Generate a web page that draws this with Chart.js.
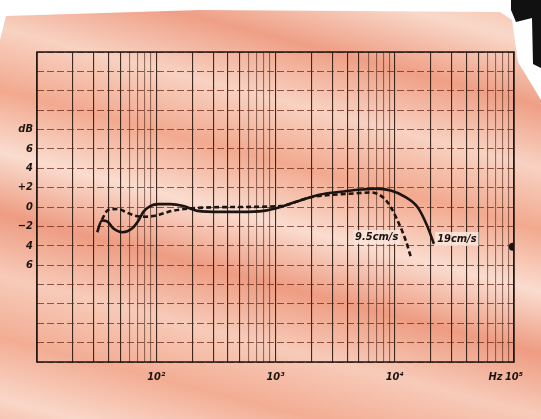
<!DOCTYPE html>
<html>
<head>
<meta charset="utf-8">
<script src="https://cdn.jsdelivr.net/npm/chart.js"></script>
<style>
  html, body { margin: 0; padding: 0; background: #fff; }
  #chart { display: block; }
</style>
</head>
<body>
<canvas id="chart" width="541" height="419"></canvas>
<script>
// Frequency response of a tape deck at two tape speeds
const speed19Freq = [32, 35, 39, 43.5, 52, 63, 71, 78, 89, 104, 131, 169, 221, 345, 508, 793, 1100, 1530, 2390, 3720, 5180, 7000, 9250, 12000, 15500, 18500, 21300];
const speed19Db   = [-2.6, -1.4, -1.5, -2.2, -2.6, -2.2, -1.4, -0.5, 0.1, 0.3, 0.3, 0.1, -0.4, -0.5, -0.5, -0.4, 0, 0.6, 1.3, 1.6, 1.8, 1.9, 1.7, 1.1, 0, -1.8, -3.8];

const speed95Freq = [35, 39.5, 48, 55, 66.5, 81, 98, 112, 136, 221, 479, 1100, 1970, 3330, 4530, 6290, 7950, 9250, 11100, 12400, 13600];
const speed95Db   = [-1.3, -0.3, -0.2, -0.5, -0.9, -1.0, -0.9, -0.7, -0.4, -0.1, 0, 0.1, 1.0, 1.3, 1.4, 1.5, 1.0, 0, -2.0, -3.5, -5.1];

// stray ink dot near the right edge of the scan
const blotFreq = [97700];
const blotDb = [-4.1];

// tick positions and labels
const xTickValues = [10, 20, 30, 40, 50, 60, 70, 80, 90,
  100, 200, 300, 400, 500, 600, 700, 800, 900,
  1000, 2000, 3000, 4000, 5000, 6000, 7000, 8000, 9000,
  10000, 20000, 30000, 40000, 50000, 60000, 70000, 80000, 90000, 100000];
const xLabelValues = [100, 1000, 10000, 70000, 100000];
const xLabelTexts  = ['10²', '10³', '10⁴', 'Hz', '10⁵'];

const yTickValues = [-16, -14, -12, -10, -8, -6, -4, -2, 0, 2, 4, 6, 8, 10, 12, 14, 16];
const yLabelValues = [8, 6, 4, 2, 0, -2, -4, -6];
const yLabelTexts  = ['dB', '6', '4', '+2', '0', '−2', '4', '6'];

const curveLabels = ['9.5cm/s', '19cm/s'];
const curveLabelFreq = [7060, 33200];
const curveLabelDb = [-3.1, -3.3];

const INK = '#1c1410';
const FONT_FAMILY = "'DejaVu Sans Condensed', 'Liberation Sans Narrow', sans-serif";

function toPoints(xs, ys) {
  return xs.map((x, i) => ({ x: x, y: ys[i] }));
}

// pink paper with diagonal bands
const paperPlugin = {
  id: 'paper',
  beforeDraw(chart) {
    const ctx = chart.ctx;
    const w = chart.width, h = chart.height;
    ctx.save();
    ctx.fillStyle = '#ffffff';
    ctx.fillRect(0, 0, w, h);

    const g = ctx.createLinearGradient(300, -80, 150, 500);
    const bands = ['#f4b49e', '#f9d8c9', '#ef9f86', '#f8d2c2', '#f2a98f', '#fadccf', '#ee9c82', '#f7cbb9', '#f3ad94', '#f9d7c8', '#ef9f86'];
    bands.forEach((c, i) => g.addColorStop(i / (bands.length - 1), c));
    ctx.fillStyle = g;
    ctx.beginPath();
    ctx.moveTo(6, 16);
    ctx.lineTo(200, 10);
    ctx.lineTo(500, 12);
    ctx.lineTo(512, 20);
    ctx.lineTo(518, 62);
    ctx.lineTo(541, 100);
    ctx.lineTo(541, 419);
    ctx.lineTo(0, 419);
    ctx.lineTo(0, 40);
    ctx.closePath();
    ctx.fill();

    // dark edge of the page in the top right corner
    ctx.fillStyle = '#111';
    ctx.beginPath();
    ctx.moveTo(511, 0);
    ctx.lineTo(541, 0);
    ctx.lineTo(541, 68);
    ctx.lineTo(533, 64);
    ctx.lineTo(532, 18);
    ctx.lineTo(516, 22);
    ctx.lineTo(511, 10);
    ctx.closePath();
    ctx.fill();
    ctx.restore();
  }
};

// frame and curve captions
const framePlugin = {
  id: 'frame',
  afterDatasetsDraw(chart) {
    const ctx = chart.ctx;
    const a = chart.chartArea;
    const xs = chart.scales.x, ys = chart.scales.y;
    ctx.save();
    ctx.strokeStyle = INK;
    ctx.lineWidth = 1.5;
    ctx.strokeRect(a.left, a.top, a.right - a.left, a.bottom - a.top);

    ctx.font = 'italic bold 11px ' + FONT_FAMILY;
    ctx.textAlign = 'center';
    ctx.textBaseline = 'middle';
    curveLabels.forEach((t, i) => {
      const px = xs.getPixelForValue(curveLabelFreq[i]);
      const py = ys.getPixelForValue(curveLabelDb[i]);
      const tw = ctx.measureText(t).width;
      ctx.fillStyle = 'rgba(250, 228, 218, 0.9)';
      ctx.fillRect(px - tw / 2 - 2, py - 7, tw + 4, 14);
      ctx.fillStyle = INK;
      ctx.fillText(t, px, py);
    });
    ctx.restore();
  }
};

new Chart(document.getElementById('chart'), {
  type: 'line',
  data: {
    datasets: [
      {
        label: '19cm/s',
        data: toPoints(speed19Freq, speed19Db),
        borderColor: INK,
        borderWidth: 2.6,
        pointRadius: 0,
        cubicInterpolationMode: 'monotone',
        fill: false
      },
      {
        label: '9.5cm/s',
        data: toPoints(speed95Freq, speed95Db),
        borderColor: INK,
        borderWidth: 2.6,
        borderDash: [5, 3],
        pointRadius: 0,
        cubicInterpolationMode: 'monotone',
        fill: false
      },
      {
        label: 'blot',
        data: toPoints(blotFreq, blotDb),
        showLine: false,
        pointRadius: 4,
        pointBackgroundColor: INK,
        pointBorderWidth: 0
      }
    ]
  },
  options: {
    responsive: false,
    animation: false,
    layout: { padding: { left: 0, top: 52, right: 27, bottom: 0 } },
    plugins: {
      legend: { display: false },
      tooltip: { enabled: false }
    },
    scales: {
      x: {
        type: 'logarithmic',
        min: 10,
        max: 100000,
        afterBuildTicks(scale) {
          scale.ticks = xTickValues.map(v => ({ value: v }));
        },
        afterFit(scale) {
          scale.height = 57;
        },
        grid: {
          // lines near the top of each decade are fainter on the printed grid
          color(ctx) {
            const v = ctx.tick ? ctx.tick.value : 10;
            const sig = Math.round(v / Math.pow(10, Math.floor(Math.log10(v) + 1e-9)));
            return sig >= 6 ? 'rgba(60, 30, 20, 0.55)' : 'rgba(40, 24, 16, 0.9)';
          },
          lineWidth: 1.1,
          drawTicks: false
        },
        border: { display: false },
        ticks: {
          autoSkip: false,
          maxRotation: 0,
          padding: 9,
          color: INK,
          font: { family: FONT_FAMILY, size: 11, style: 'italic', weight: 'bold' },
          callback(value) {
            const i = xLabelValues.indexOf(value);
            return i >= 0 ? xLabelTexts[i] : '';
          }
        }
      },
      y: {
        type: 'linear',
        min: -16,
        max: 16,
        afterBuildTicks(scale) {
          scale.ticks = yTickValues.map(v => ({ value: v }));
        },
        afterFit(scale) {
          scale.width = 37;
        },
        grid: {
          color: 'rgba(110, 40, 25, 0.75)',
          lineWidth: 1,
          drawTicks: false
        },
        border: { display: false, dash: [7, 3] },
        ticks: {
          autoSkip: false,
          padding: 4,
          color: INK,
          font: { family: FONT_FAMILY, size: 11, style: 'italic', weight: 'bold' },
          callback(value) {
            const i = yLabelValues.indexOf(value);
            return i >= 0 ? yLabelTexts[i] : '';
          }
        }
      }
    }
  },
  plugins: [paperPlugin, framePlugin]
});
</script>
</body>
</html>
